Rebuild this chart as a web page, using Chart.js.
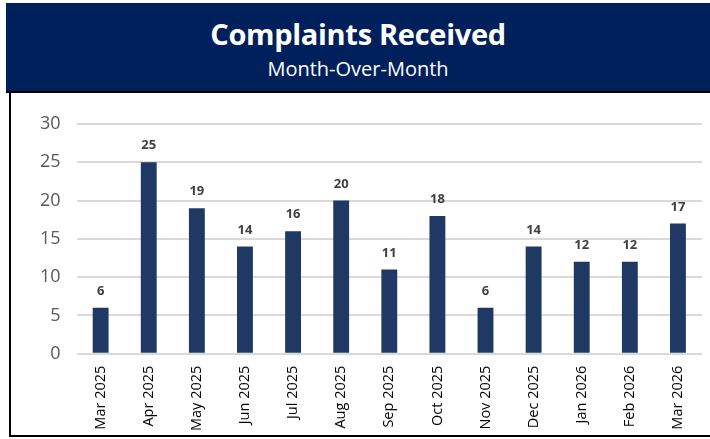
<!DOCTYPE html>
<html>
<head>
<meta charset="utf-8">
<script src="https://cdn.jsdelivr.net/npm/chart.js@4"></script>
<style>
  body { margin: 0; width: 710px; height: 439px; background: #fff; position: relative; overflow: hidden; font-family: "Open Sans", "Liberation Sans", sans-serif; }
  .cabecera { position: absolute; left: 6px; top: 3px; width: 704px; height: 88px; background: #00205b; color: #fff; text-align: center; border-bottom: 2px solid #000; }
  .titulo { font-weight: bold; font-size: 29px; margin-top: 13px; line-height: 36px; letter-spacing: -0.3px; }
  .subtitulo { font-size: 20px; line-height: 26px; margin-top: 4px; }
  .marco { position: absolute; left: 9px; top: 93px; width: 710px; height: 342px; border-left: 2px solid #000; border-bottom: 2px solid #000; }
  .lienzo { position: absolute; left: 11px; top: 93px; width: 699px; height: 342px; }
</style>
</head>
<body>
<div class="cabecera">
  <div class="titulo">Complaints Received</div>
  <div class="subtitulo">Month-Over-Month</div>
</div>
<div class="marco"></div>
<div class="lienzo"><canvas id="graficoQuejas"></canvas></div>
<script>
const meses = ['Mar 2025', 'Apr 2025', 'May 2025', 'Jun 2025', 'Jul 2025', 'Aug 2025', 'Sep 2025',
  'Oct 2025', 'Nov 2025', 'Dec 2025', 'Jan 2026', 'Feb 2026', 'Mar 2026'];
const quejas = [6, 25, 19, 14, 16, 20, 11, 18, 6, 14, 12, 12, 17];
const ticksY = [0, 5, 10, 15, 20, 25, 30];

// etiquetas de valor encima de cada barra
const etiquetasValor = {
  id: 'etiquetasValor',
  afterDatasetsDraw(chart) {
    const ctx = chart.ctx;
    const meta = chart.getDatasetMeta(0);
    ctx.save();
    ctx.font = 'bold 13px "Open Sans", "Liberation Sans", sans-serif';
    ctx.fillStyle = '#404040';
    ctx.textAlign = 'center';
    ctx.textBaseline = 'bottom';
    meta.data.forEach((barra, i) => {
      ctx.fillText(quejas[i], barra.x, barra.y - 10);
    });
    ctx.restore();
  }
};

const grafico = document.querySelector('#graficoQuejas');
new Chart(grafico, {
  type: 'bar',
  data: {
    labels: meses,
    datasets: [{
      data: quejas,
      backgroundColor: '#1f3864',
      barPercentage: 0.66,
      categoryPercentage: 0.5
    }]
  },
  options: {
    responsive: true,
    maintainAspectRatio: false,
    animation: false,
    layout: { padding: { top: 31, right: 8, left: 13, bottom: 0 } },
    plugins: { legend: { display: false }, tooltip: { enabled: false } },
    scales: {
      x: {
        grid: { display: false },
        border: { display: false },
        ticks: {
          color: '#000',
          font: { size: 14.5, family: '"Open Sans", "Liberation Sans", sans-serif' },
          maxRotation: 90, minRotation: 90, padding: 4
        }
      },
      y: {
        min: 0, max: 30,
        afterBuildTicks(axis) { axis.ticks = ticksY.map(v => ({ value: v })); },
        grid: { color: '#d9d9d9', lineWidth: 2, drawTicks: false },
        border: { display: false },
        ticks: {
          color: '#595959',
          font: { size: 18, family: '"Open Sans", "Liberation Sans", sans-serif' },
          padding: 16
        }
      }
    }
  },
  plugins: [etiquetasValor]
});
</script>
</body>
</html>
